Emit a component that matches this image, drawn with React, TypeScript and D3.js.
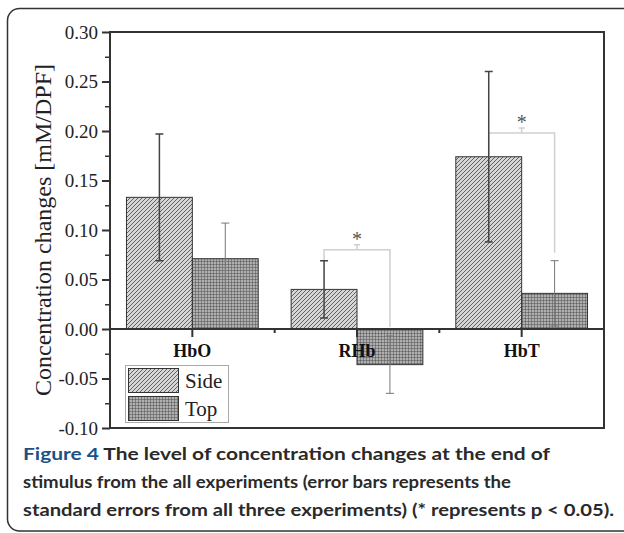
import React, { useEffect, useRef } from 'react';
import * as d3 from 'd3';

const categories = ['HbO', 'RHb', 'HbT'];
const seriesNames = ['Side', 'Top'];
const sideValues = [0.133, 0.040, 0.174];
const sideErrors = [0.064, 0.029, 0.086];
const topValues = [0.071, -0.036, 0.036];
const topErrors = [0.036, 0.029, 0.033];
const yTicks = [-0.10, -0.05, 0.00, 0.05, 0.10, 0.15, 0.20, 0.25, 0.30];
const yMinorTicks = [-0.075, -0.025, 0.025, 0.075, 0.125, 0.175, 0.225, 0.275];
// significance brackets: bracket height, end of left leg, end of right leg
const sigCategories = ['RHb', 'HbT'];
const sigLevels = [0.080, 0.198];
const sigLeftEnds = [0.069, 0.174];
const sigRightEnds = [0.002, 0.077];
const captionLines = [
  'The level of concentration changes at the end of',
  'stimulus from the all experiments (error bars represents the',
  'standard errors from all three experiments) (* represents p < 0.05).',
];

const W = 624;
const H = 533;

export default function App() {
  const ref = useRef<SVGSVGElement>(null);

  useEffect(() => {
    if (!ref.current) return;
    const svg = d3.select(ref.current);
    svg.selectAll('*').remove();

    const margin = { left: 110, right: 604, top: 32, bottom: 428 };
    const serif = "'Liberation Serif', 'Times New Roman', serif";

    // patterns
    const defs = svg.append('defs');
    const ps = defs.append('pattern').attr('id', 'sidePat')
      .attr('patternUnits', 'userSpaceOnUse').attr('width', 4).attr('height', 4);
    ps.append('rect').attr('width', 4).attr('height', 4).attr('fill', '#d6d6d6');
    ps.append('path').attr('d', 'M-1,1 l2,-2 M0,4 l4,-4 M3,5 l2,-2')
      .attr('stroke', '#555').attr('stroke-width', 0.9);
    const pt = defs.append('pattern').attr('id', 'topPat')
      .attr('patternUnits', 'userSpaceOnUse').attr('width', 3).attr('height', 3);
    pt.append('rect').attr('width', 3).attr('height', 3).attr('fill', '#b0b0b0');
    pt.append('path').attr('d', 'M0,0 V3 M0,0 H3')
      .attr('stroke', '#444').attr('stroke-width', 0.9);

    // outer frame
    svg.append('rect')
      .attr('x', 7.5).attr('y', 8.5).attr('width', 640).attr('height', 522.5)
      .attr('rx', 12).attr('fill', 'none').attr('stroke', '#333').attr('stroke-width', 1.5);

    const x = d3.scaleBand<string>()
      .domain(categories)
      .range([margin.left, margin.right])
      .paddingInner(0.2)
      .paddingOuter(0.1);
    const xs = d3.scaleBand<string>().domain(seriesNames).range([0, x.bandwidth()]);
    const y = d3.scaleLinear().domain([-0.10, 0.30]).range([margin.bottom, margin.top]);

    const series = [
      { name: 'Side', values: sideValues, errors: sideErrors, fill: 'url(#sidePat)', ec: '#444', ew: 1.5 },
      { name: 'Top', values: topValues, errors: topErrors, fill: 'url(#topPat)', ec: '#777', ew: 1 },
    ];

    // bars
    series.forEach(s => {
      svg.append('g').selectAll('rect')
        .data(categories)
        .join('rect')
        .attr('x', c => (x(c) || 0) + (xs(s.name) || 0))
        .attr('width', xs.bandwidth())
        .attr('y', (c, i) => y(Math.max(0, s.values[i])))
        .attr('height', (c, i) => Math.abs(y(s.values[i]) - y(0)))
        .attr('fill', s.fill)
        .attr('stroke', '#333')
        .attr('stroke-width', 1);
    });

    // significance brackets
    sigCategories.forEach((c, i) => {
      const x1 = (x(c) || 0) + (xs('Side') || 0) + xs.bandwidth() / 2;
      const x2 = (x(c) || 0) + (xs('Top') || 0) + xs.bandwidth() / 2;
      const xm = (x1 + x2) / 2;
      const yb = y(sigLevels[i]);
      const g = svg.append('g').attr('stroke', '#cfcfcf').attr('stroke-width', 1.5).attr('fill', 'none');
      g.append('path').attr('d', `M${x1},${y(sigLeftEnds[i])} V${yb} H${x2} V${y(sigRightEnds[i])}`);
      g.append('path').attr('d', `M${xm},${yb} V${yb - 5} M${xm - 3},${yb - 5} H${xm + 3}`);
      svg.append('text')
        .attr('x', xm).attr('y', yb - 4)
        .attr('text-anchor', 'middle')
        .attr('font-family', serif).attr('font-size', 20)
        .attr('fill', '#555')
        .text('*');
    });

    // error bars
    series.forEach(s => {
      const g = svg.append('g').attr('stroke', s.ec).attr('stroke-width', s.ew).attr('fill', 'none');
      categories.forEach((c, i) => {
        const cx = (x(c) || 0) + (xs(s.name) || 0) + xs.bandwidth() / 2;
        const hi = y(s.values[i] + s.errors[i]);
        const lo = y(s.values[i] - s.errors[i]);
        g.append('path').attr('d', `M${cx},${hi} V${lo} M${cx - 4},${hi} H${cx + 4} M${cx - 4},${lo} H${cx + 4}`);
      });
    });

    // frame and zero line
    const axisColor = '#333';
    svg.append('rect')
      .attr('x', margin.left).attr('y', margin.top)
      .attr('width', margin.right - margin.left).attr('height', margin.bottom - margin.top)
      .attr('fill', 'none').attr('stroke', axisColor).attr('stroke-width', 2);
    svg.append('line')
      .attr('x1', margin.left).attr('x2', margin.right)
      .attr('y1', y(0)).attr('y2', y(0))
      .attr('stroke', axisColor).attr('stroke-width', 2);

    // y axis
    const yAxis = svg.append('g')
      .attr('transform', `translate(${margin.left},0)`)
      .call(d3.axisLeft(y).tickValues(yTicks).tickSize(8).tickPadding(4)
        .tickFormat(d => (+d).toFixed(2)));
    yAxis.select('.domain').remove();
    yAxis.selectAll('line').attr('stroke', axisColor).attr('stroke-width', 2);
    yAxis.selectAll('text').attr('font-family', serif).attr('font-size', 19).attr('fill', '#222');

    const yMinor = svg.append('g')
      .attr('transform', `translate(${margin.left},0)`)
      .call(d3.axisLeft(y).tickValues(yMinorTicks).tickSize(5).tickFormat(() => ''));
    yMinor.select('.domain').remove();
    yMinor.selectAll('line').attr('stroke', axisColor).attr('stroke-width', 1.5);

    // x ticks at zero line
    const centers = categories.map(c => (x(c) || 0) + x.bandwidth() / 2);
    centers.forEach(cx => {
      svg.append('line').attr('x1', cx).attr('x2', cx).attr('y1', y(0)).attr('y2', y(0) + 8)
        .attr('stroke', axisColor).attr('stroke-width', 2);
    });
    centers.slice(1).forEach((cx, i) => {
      const bx = (cx + centers[i]) / 2;
      svg.append('line').attr('x1', bx).attr('x2', bx).attr('y1', y(0)).attr('y2', y(0) + 4)
        .attr('stroke', axisColor).attr('stroke-width', 2);
    });

    // category labels
    svg.append('g').selectAll('text')
      .data(categories)
      .join('text')
      .attr('x', (c, i) => centers[i])
      .attr('y', y(0) + 28)
      .attr('text-anchor', 'middle')
      .attr('font-family', serif).attr('font-weight', 'bold').attr('font-size', 18)
      .attr('fill', '#111')
      .text(c => c);

    // y title
    svg.append('text')
      .attr('transform', `translate(51,${(margin.top + margin.bottom) / 2}) rotate(-90)`)
      .attr('text-anchor', 'middle')
      .attr('font-family', serif).attr('font-size', 24)
      .attr('fill', '#222')
      .text('Concentration changes [mM/DPF]');

    // legend
    const lg = svg.append('g');
    lg.append('rect').attr('x', 125.5).attr('y', 365.5).attr('width', 103).attr('height', 57)
      .attr('fill', '#fff').attr('stroke', '#aaa').attr('stroke-width', 1);
    series.forEach((s, i) => {
      lg.append('rect')
        .attr('x', 128.5).attr('y', 368.5 + i * 28).attr('width', 50).attr('height', 24)
        .attr('fill', s.fill).attr('stroke', '#333').attr('stroke-width', 1);
      lg.append('text')
        .attr('x', 185).attr('y', 388 + i * 27.5)
        .attr('font-family', serif).attr('font-size', 21)
        .attr('fill', '#222')
        .text(s.name);
    });

    // caption
    const sans = "Lato, 'Open Sans', sans-serif";
    const lineEnds = [550, 511, 614];
    captionLines.forEach((line, i) => {
      const t = svg.append('text')
        .attr('x', 23).attr('y', 460 + i * 28)
        .attr('font-family', sans).attr('font-size', 17.5).attr('font-weight', 'bold')
        .attr('fill', '#2a2a2a')
        .attr('textLength', lineEnds[i] - 23)
        .attr('lengthAdjust', 'spacingAndGlyphs');
      if (i === 0) {
        t.append('tspan').attr('fill', '#1b5088').text('Figure 4 ');
      }
      t.append('tspan').text(line);
    });
  }, []);

  return (
    <svg
      ref={ref}
      width={W}
      height={H}
      style={{ position: 'absolute', left: 0, top: 0, background: '#fff' }}
    />
  );
}
